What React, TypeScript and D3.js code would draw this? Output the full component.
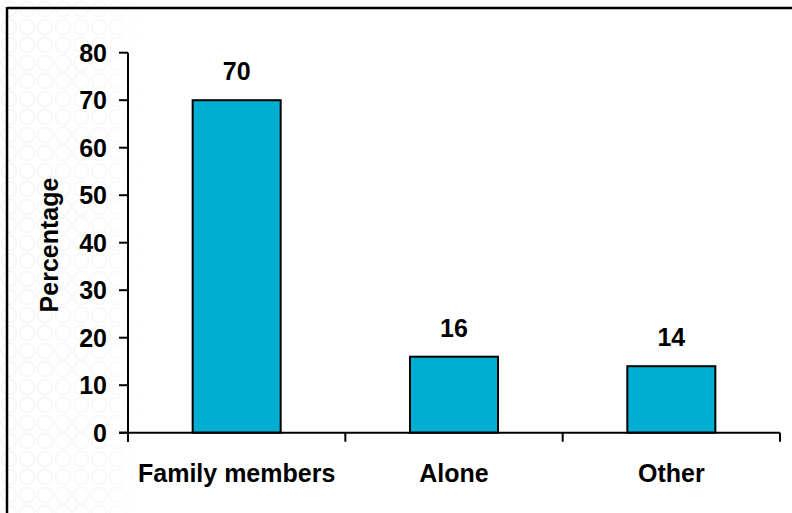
import React from "react";
import * as d3 from "d3";

const categories = ["Family members", "Alone", "Other"];
const values = [70, 16, 14];
const yTicks = [0, 10, 20, 30, 40, 50, 60, 70, 80];
const yTitle = "Percentage";

export default function App() {
  const W = 792, H = 513;
  const left = 128, right = 780, top = 52.7, bottom = 432.7;
  const y = d3.scaleLinear().domain([0, 80]).range([bottom, top]);
  const x = d3.scaleBand<string>().domain(categories).range([left, right]).paddingInner(0.595).paddingOuter(0.2975);
  const step = x.step();
  const boundaries = d3.range(categories.length + 1).map((i) => left + i * step);
  const font = "'Liberation Sans', Arial, sans-serif";
  const fs = 25;
  return (
    <svg width={W} height={H} style={{ position: "absolute", left: 0, top: 0, background: "#fff" }}>
      <defs>
        <pattern id="bgp" width="18" height="18" patternUnits="userSpaceOnUse">
          <circle cx="9" cy="9" r="7.5" fill="none" stroke="#f7f7f7" strokeWidth="2" />
        </pattern>
        <linearGradient id="fade" x1="0" x2="1" y1="0" y2="0">
          <stop offset="0" stopColor="#fff" stopOpacity="0" />
          <stop offset="0.7" stopColor="#fff" stopOpacity="0.2" />
          <stop offset="1" stopColor="#fff" stopOpacity="1" />
        </linearGradient>
      </defs>
      <rect x={0} y={0} width={145} height={H} fill="url(#bgp)" />
      <rect x={0} y={0} width={145} height={H} fill="url(#fade)" />
      {/* frame */}
      <line x1={7} y1={8} x2={W} y2={8} stroke="#000" strokeWidth={2.5} />
      <line x1={7} y1={7} x2={7} y2={H} stroke="#000" strokeWidth={2.5} />
      {/* bars */}
      {categories.map((c, i) => (
        <g key={c}>
          <rect x={x(c)} y={y(values[i])} width={x.bandwidth()} height={bottom - y(values[i])} fill="#00AFD1" stroke="#000" strokeWidth={2} />
          <text x={(x(c) as number) + x.bandwidth() / 2} y={y(values[i]) - 20} textAnchor="middle" fontFamily={font} fontWeight="bold" fontSize={fs} fill="#000">
            {values[i]}
          </text>
          <text x={(x(c) as number) + x.bandwidth() / 2} y={481.5} textAnchor="middle" fontFamily={font} fontWeight="bold" fontSize={fs} fill="#000">
            {c}
          </text>
        </g>
      ))}
      {/* y axis */}
      <line x1={left} y1={top} x2={left} y2={bottom + 9} stroke="#000" strokeWidth={2} />
      {yTicks.map((t) => (
        <g key={t}>
          <line x1={left - 9} x2={left} y1={y(t)} y2={y(t)} stroke="#000" strokeWidth={2} />
          <text x={107} y={y(t)} dy="0.36em" textAnchor="end" fontFamily={font} fontWeight="bold" fontSize={fs} fill="#000">
            {t}
          </text>
        </g>
      ))}
      {/* x axis */}
      <line x1={left - 9} y1={bottom} x2={right} y2={bottom} stroke="#000" strokeWidth={2} />
      {boundaries.map((b, i) => (
        <line key={i} x1={b} x2={b} y1={bottom} y2={bottom + 9} stroke="#000" strokeWidth={2} />
      ))}
      <text transform={`translate(57.5,245) rotate(-90)`} textAnchor="middle" fontFamily={font} fontWeight="bold" fontSize={fs} fill="#000">
        {yTitle}
      </text>
    </svg>
  );
}
